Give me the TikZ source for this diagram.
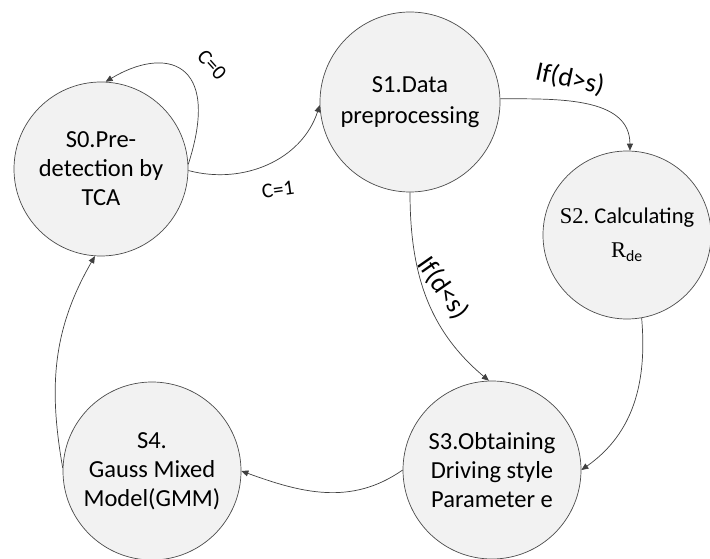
\documentclass[tikz,border=0pt]{standalone}
\usepackage{fontspec}
\setmainfont{Carlito}
\newfontfamily\serifR{Liberation Serif}
\usetikzlibrary{arrows.meta}
\tikzset{
  state/.style={circle, draw=black!70, line width=0.7pt, fill=black!5, align=center,
    font=\fontsize{24.5}{29}\selectfont, inner sep=0pt},
  conn/.style={draw=black!75, line width=0.7pt, -{Triangle[length=7pt,width=6pt]}},
  clab/.style={font=\fontsize{21}{24}\selectfont},
  dlab/.style={font=\fontsize{27}{30}\selectfont}
}
\begin{document}
\begin{tikzpicture}[x=1pt,y=1pt]
\useasboundingbox (0,0) rectangle (710,558);
\node[state, minimum size=174pt] (S0) at (101,389) {S0.Pre-\\detection by\\TCA};
\node[state, minimum size=180pt, font=\fontsize{24.5}{31}\selectfont] (S1) at (410,456) {S1.Data\\preprocessing};
\node[state, minimum size=168pt, font=\fontsize{22.5}{34}\selectfont] (S2) at (627,323) {\serifR S2.\normalfont\ Calculating\\{\serifR R}\textsubscript{de}};
\node[state, minimum size=178pt] (S3) at (492,88) {S3.Obtaining\\Driving style\\Parameter e};
\node[state, minimum size=178pt] (S4) at (152,87) {S4.\\Gauss Mixed\\Model(GMM)};

\draw[conn] (S0.3) .. controls (222,498) and (165,512) .. (S0.87);
\node[clab, rotate=-48] (l0) at (212,493) {C=0};

\draw[conn] (S0.-1) to[out=-15, in=252] (S1.182);
\node[clab, rotate=8] (l1) at (278,368) {C=1};

\draw[conn] (S1.2) to[out=0, in=90] (S2.88);
\node[dlab, rotate=-12] (l2) at (570,479) {If(d>s)};

\draw[conn] (S1.270) to[out=-90, in=140] (S3.92);
\node[dlab, rotate=-55] (l3) at (443,270) {If(d<s)};

\draw[conn] (S2.-80) to[out=-85, in=35] (S3.0);

\draw[conn] (S3.180) to[out=215, in=-20] (S4.0);

\draw[conn] (S4.178) to[out=100, in=240] (S0.266);
\end{tikzpicture}
\end{document}
